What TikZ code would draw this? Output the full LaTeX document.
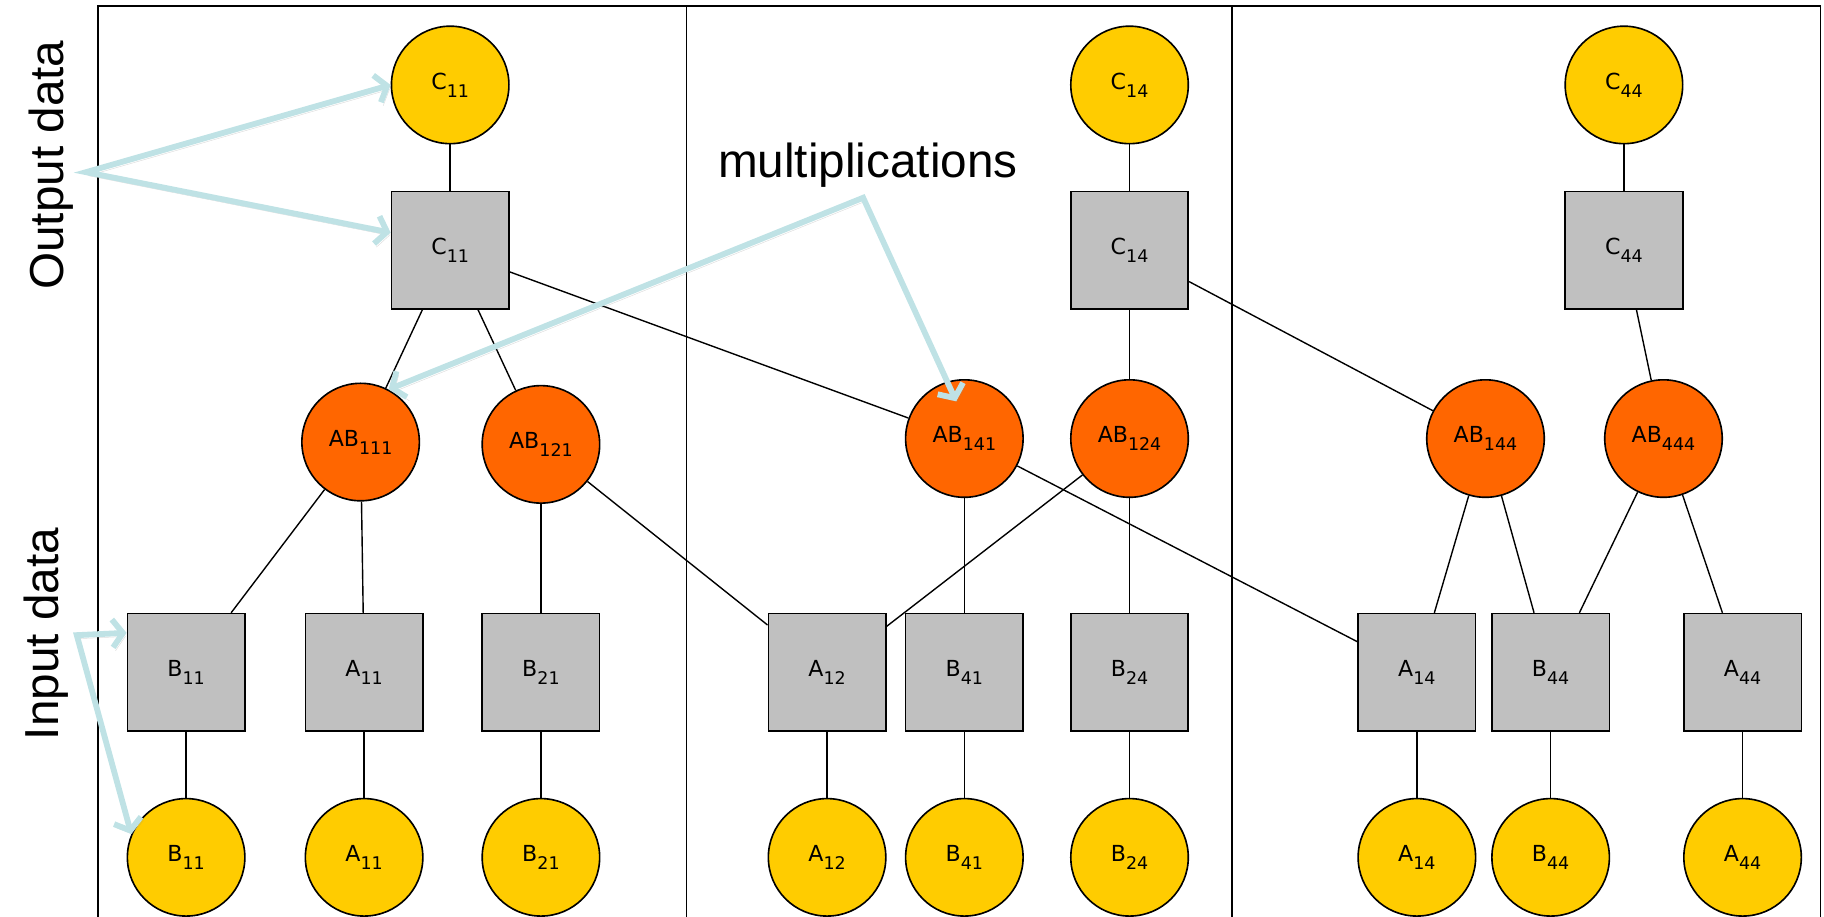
\documentclass[tikz,border=0pt]{standalone}
\usepackage{fontspec}
\setmainfont{DejaVu Sans}
\newfontfamily\helv{Liberation Sans}
\usepackage{tikz}
\usetikzlibrary{positioning, arrows.meta}
\usepackage{xcolor}

\definecolor{datayellow}{HTML}{FFCC00}
\definecolor{multorange}{HTML}{FF6600}
\definecolor{chunkgray}{HTML}{C0C0C0}
\definecolor{notecyan}{HTML}{BFE2E5}

% label with a big, lowered index
\newcommand{\ix}[2]{#1\raisebox{-7pt}{\fontsize{15}{15}\selectfont #2}}

\begin{document}
\begin{tikzpicture}[x=1pt, y=-1pt, node distance=159pt, on grid,
    data/.style={circle, draw, line width=1.4pt, fill=datayellow, minimum size=101pt, inner sep=0pt, font=\fontsize{19}{19}\selectfont},
    mult/.style={data, fill=multorange},
    chunk/.style={rectangle, draw, line width=1.4pt, fill=chunkgray, minimum size=101pt, inner sep=0pt, font=\fontsize{19}{19}\selectfont},
    wire/.style={line width=1.2pt},
    note/.style={draw=notecyan, line width=5pt, line join=miter,
        {Straight Barb[length=9pt,width=24pt]}-{Straight Barb[length=9pt,width=24pt]},
        preaction={draw=black!45, opacity=.3, transform canvas={shift={(2pt,-3pt)}}}},
    side/.style={rotate=90, inner sep=0pt, font=\helv\fontsize{41}{41}\selectfont}]
    \useasboundingbox (0,0) rectangle (1568,788);

    % frame
    \draw[line width=1.4pt] (84,788) -- (84,5) -- (1565,5) -- (1565,788);
    \draw[line width=1.4pt] (590,5) -- (590,788);
    \draw[line width=1.4pt] (1059,5) -- (1059,788);

    % first part
    \node[data] (cC11) at (387,73) {\ix{C}{11}};
    \node[chunk, below=142pt of cC11] (bC11) {\ix{C}{11}};
    \node[mult] (mAB111) at (310,380) {\ix{AB}{111}};
    \node[mult] (mAB121) at (465,382) {\ix{AB}{121}};
    \node[chunk] (bB11) at (160,578) {\ix{B}{11}};
    \node[chunk] (bA11) at (313,578) {\ix{A}{11}};
    \node[chunk] (bB21) at (465,578) {\ix{B}{21}};
    \node[data, below=of bB11] (cB11) {\ix{B}{11}};
    \node[data, below=of bA11] (cA11) {\ix{A}{11}};
    \node[data, below=of bB21] (cB21) {\ix{B}{21}};

    % second part
    \node[data] (cC14) at (971,73) {\ix{C}{14}};
    \node[chunk, below=142pt of cC14] (bC14) {\ix{C}{14}};
    \node[mult] (mAB141) at (829,377) {\ix{AB}{141}};
    \node[mult] (mAB124) at (971,377) {\ix{AB}{124}};
    \node[chunk] (bA12) at (711,578) {\ix{A}{12}};
    \node[chunk] (bB41) at (829,578) {\ix{B}{41}};
    \node[chunk] (bB24) at (971,578) {\ix{B}{24}};
    \node[data, below=of bA12] (cA12) {\ix{A}{12}};
    \node[data, below=of bB41] (cB41) {\ix{B}{41}};
    \node[data, below=of bB24] (cB24) {\ix{B}{24}};

    % third part
    \node[data] (cC44) at (1396,73) {\ix{C}{44}};
    \node[chunk, below=142pt of cC44] (bC44) {\ix{C}{44}};
    \node[mult] (mAB144) at (1277,377) {\ix{AB}{144}};
    \node[mult] (mAB444) at (1430,377) {\ix{AB}{444}};
    \node[chunk] (bA14) at (1218,578) {\ix{A}{14}};
    \node[chunk] (bB44) at (1333,578) {\ix{B}{44}};
    \node[chunk] (bA44) at (1498,578) {\ix{A}{44}};
    \node[data, below=of bA14] (cA14) {\ix{A}{14}};
    \node[data, below=of bB44] (cB44) {\ix{B}{44}};
    \node[data, below=of bA44] (cA44) {\ix{A}{44}};

    \path[wire]
        (cC11) edge (bC11)
        (bC11) edge (mAB111) edge (mAB121) edge (mAB141)
        (mAB111) edge (bB11) edge (bA11)
        (mAB121) edge (bB21) edge (bA12)
        (bB11) edge (cB11)
        (bA11) edge (cA11)
        (bB21) edge (cB21)
        (cC14) edge (bC14)
        (bC14) edge (mAB124) edge (mAB144)
        (mAB141) edge (bB41) edge (bA14)
        (mAB124) edge (bA12) edge (bB24)
        (bA12) edge (cA12)
        (bB41) edge (cB41)
        (bB24) edge (cB24)
        (cC44) edge (bC44)
        (bC44) edge (mAB444)
        (mAB144) edge (bA14) edge (bB44)
        (mAB444) edge (bB44) edge (bA44)
        (bA14) edge (cA14)
        (bB44) edge (cB44)
        (bA44) edge (cA44);

    % notes
    \node[side] (outlbl) at (44,142) {Output data};
    \node[side] (inlbl) at (40,545) {Input data};
    \node[inner sep=0pt, font=\helv\fontsize{41}{41}\selectfont] (multlbl) at (746,142) {multiplications};

    \coordinate (outsrc) at (74,148);
    \coordinate (insrc) at (66,546);
    \coordinate (multsrc) at (742,170);
    \draw[note] (cC11.west) -- (outsrc) -- ([yshift=15pt]bC11.west);
    \draw[note] ([yshift=34pt]bB11.west) -- (insrc) -- (cB11.157);
    \draw[note] (mAB111.62) -- (multsrc) -- ([shift={(-7,-32)}]mAB141.center);
\end{tikzpicture}
\end{document}
